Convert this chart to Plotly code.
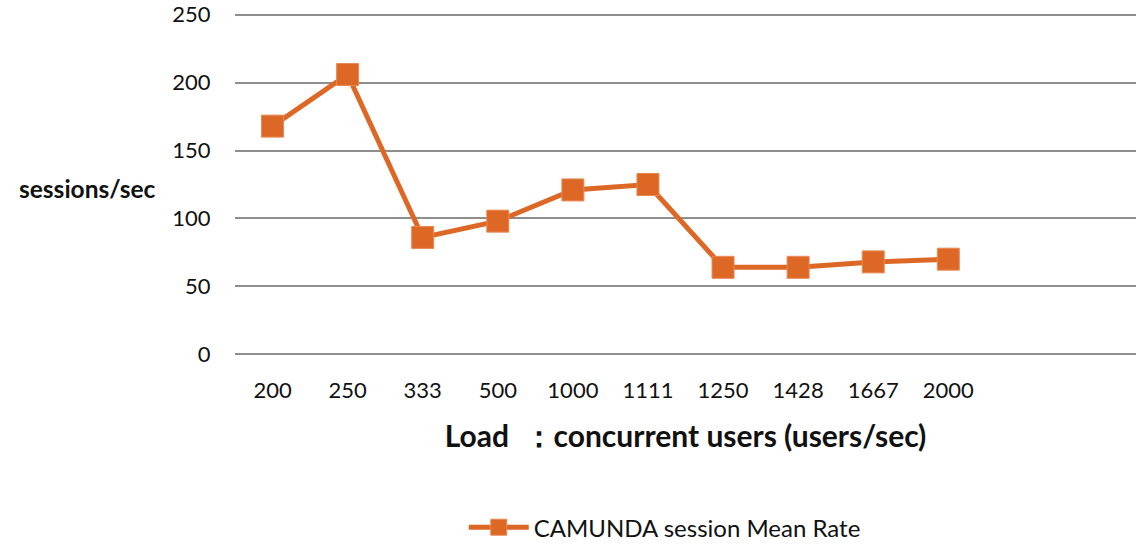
import plotly.graph_objects as go

# Données
charges = ["200", "250", "333", "500", "1000", "1111", "1250", "1428", "1667", "2000"]
taux_sessions = [168, 206, 86, 98, 121, 125, 64, 64, 68, 70]
y_ticks = [0, 50, 100, 150, 200, 250]

orange = "#DD6826"
police = "Lato, 'Open Sans', sans-serif"

fig = go.Figure()
fig.add_trace(go.Scatter(
    x=charges,
    y=taux_sessions,
    mode="lines+markers",
    name="CAMUNDA session Mean Rate",
    line=dict(color=orange, width=5),
    marker=dict(symbol="square", size=22, color=orange,
                line=dict(color="#E88A55", width=1)),
))

fig.update_layout(
    width=1136, height=544,
    margin=dict(l=235, r=0, t=8, b=183, autoexpand=False),
    plot_bgcolor="white",
    paper_bgcolor="white",
    font=dict(family=police, size=22, color="#111111"),
    showlegend=True,
    legend=dict(
        orientation="h",
        x=0.477, xanchor="center",
        y=-0.472, yanchor="middle",
        font=dict(size=24, color="#111111"),
        itemwidth=60,
    ),
    annotations=[dict(
        text="<b>sessions/sec</b>",
        xref="paper", yref="paper",
        x=-0.0855, xanchor="right",
        y=0.49, yanchor="middle",
        showarrow=False,
        font=dict(size=24.5, color="#111111"),
    )],
)

fig.update_xaxes(
    type="category",
    range=[-0.5, 11.5],
    showgrid=False,
    showline=False,
    zeroline=False,
    automargin=False,
    ticks="outside", ticklen=10, tickcolor="white",
    tickfont=dict(size=22),
    title=dict(text="<b>Load  ：concurrent users (users/sec)</b>",
               font=dict(size=30), standoff=23),
)

# plage un peu élargie pour que les lignes 0 et 250 soient tracées
fig.update_yaxes(
    range=[-5, 255],
    tickvals=y_ticks,
    showgrid=True, gridcolor="#8E8E8E", gridwidth=2,
    zeroline=False,
    showline=False,
    automargin=False,
    ticks="outside", ticklen=19, tickcolor="white",
    tickfont=dict(size=22),
)

# supprimer la marge par défaut du <body>
fig.write_html("out.html", config={"displayModeBar": False},
               post_script="document.body.style.margin='0';")
